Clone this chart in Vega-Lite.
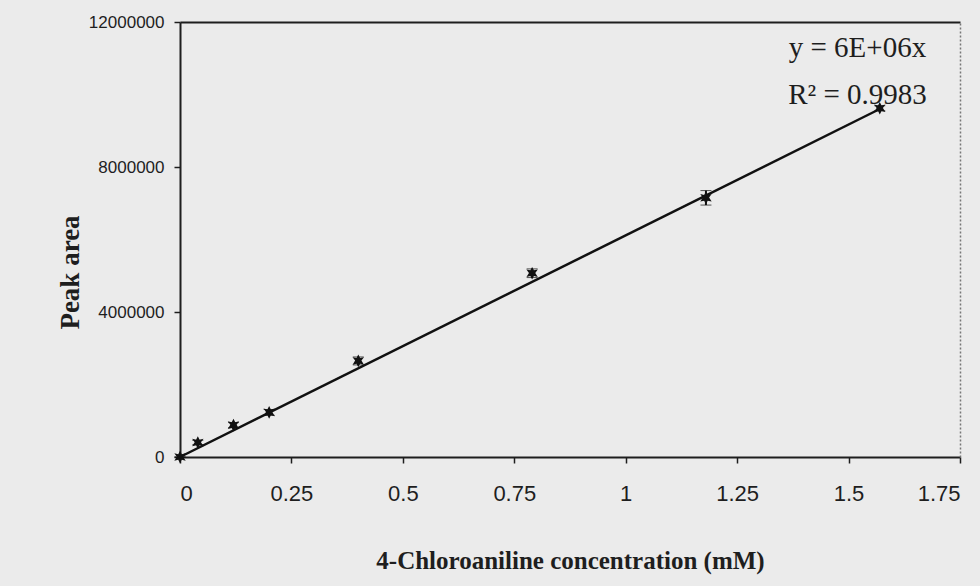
{
  "$schema": "https://vega.github.io/schema/vega-lite/v6.json",
  "width": 780,
  "height": 435,
  "autosize": "none",
  "padding": {"left": 180, "top": 22, "right": 20, "bottom": 129},
  "background": "#ebebeb",
  "config": {
    "view": {"stroke": null},
    "axis": {
      "labelFont": "Liberation Sans",
      "labelColor": "#1e1e1e",
      "titleFont": "Liberation Serif",
      "titleFontWeight": "bold",
      "titleColor": "#1e1e1e",
      "domainColor": "#1e1e1e",
      "domainWidth": 2,
      "tickColor": "#1e1e1e",
      "tickWidth": 1.5,
      "grid": false
    }
  },
  "datasets": {
    "points": [
      {"conc": 0.0, "area": 0, "lo": 0, "hi": 0},
      {"conc": 0.04, "area": 400000, "lo": 340000, "hi": 460000},
      {"conc": 0.12, "area": 880000, "lo": 810000, "hi": 950000},
      {"conc": 0.2, "area": 1230000, "lo": 1150000, "hi": 1310000},
      {"conc": 0.4, "area": 2650000, "lo": 2540000, "hi": 2760000},
      {"conc": 0.79, "area": 5070000, "lo": 4950000, "hi": 5190000},
      {"conc": 1.18, "area": 7150000, "lo": 6950000, "hi": 7350000},
      {"conc": 1.57, "area": 9620000, "lo": 9550000, "hi": 9690000}
    ],
    "fit": [
      {"conc": 0.0, "area": 0},
      {"conc": 1.57, "area": 9600000}
    ]
  },
  "layer": [
    {
      "data": {"name": "fit"},
      "mark": {"type": "line", "color": "#111111", "strokeWidth": 2.5},
      "encoding": {
        "x": {
          "field": "conc", "type": "quantitative",
          "scale": {"domain": [0, 1.75], "nice": false, "zero": true},
          "axis": {
            "values": [0, 0.25, 0.5, 0.75, 1, 1.25, 1.5, 1.75],
            "labelExpr": "datum.value",
            "labelFontSize": 22,
            "tickSize": 6,
            "labelPadding": 20,
            "title": "4-Chloroaniline concentration (mM)",
            "titleFontSize": 25,
            "titleY": 103,
            "titleBaseline": "middle"
          }
        },
        "y": {
          "field": "area", "type": "quantitative",
          "scale": {"domain": [0, 12000000], "nice": false},
          "axis": {
            "values": [0, 4000000, 8000000, 12000000],
            "format": "d",
            "labelFontSize": 17,
            "tickSize": 6,
            "labelPadding": 10,
            "title": "Peak area",
            "titleFontSize": 27,
            "titleX": -110,
            "titleY": 250,
            "titleAngle": -90,
            "titleAlign": "center",
            "titleBaseline": "middle"
          }
        }
      }
    },
    {
      "data": {"name": "points"},
      "mark": {"type": "errorbar", "ticks": {"size": 11, "color": "#111111", "strokeWidth": 2}, "rule": {"color": "#111111", "strokeWidth": 2}},
      "encoding": {
        "x": {"field": "conc", "type": "quantitative", "axis": null},
        "y": {"field": "lo", "type": "quantitative", "axis": null},
        "y2": {"field": "hi"}
      }
    },
    {
      "data": {"name": "points"},
      "mark": {
        "type": "point",
        "filled": true,
        "color": "#111111",
        "opacity": 1,
        "size": 160,
        "shape": "M0,-1L0.28,-0.45L0.9,-0.6L0.5,-0.05L0.9,0.6L0.28,0.45L0,1L-0.28,0.45L-0.9,0.6L-0.5,-0.05L-0.9,-0.6L-0.28,-0.45Z"
      },
      "encoding": {
        "x": {"field": "conc", "type": "quantitative", "axis": null},
        "y": {"field": "area", "type": "quantitative", "axis": null}
      }
    },
    {
      "mark": {"type": "point", "filled": true, "color": "#111111", "opacity": 1, "size": 120, "shape": "diamond"},
      "encoding": {
        "x": {"datum": 0, "type": "quantitative", "axis": null},
        "y": {"datum": 0, "type": "quantitative", "axis": null}
      }
    },
    {
      "data": {"values": [
        {"conc": 1.52, "area": 11280000, "label": "y = 6E+06x"},
        {"conc": 1.52, "area": 9990000, "label": "R² = 0.9983"}
      ]},
      "mark": {"type": "text", "font": "Liberation Serif", "fontSize": 29, "color": "#1e1e1e", "align": "center", "baseline": "middle"},
      "encoding": {
        "x": {"field": "conc", "type": "quantitative", "axis": null},
        "y": {"field": "area", "type": "quantitative", "axis": null},
        "text": {"field": "label"}
      }
    },
    {
      "data": {"values": [{"conc": 0, "area": 0}]},
      "mark": {"type": "point", "opacity": 0},
      "encoding": {
        "x": {
          "field": "conc", "type": "quantitative",
          "axis": {"orient": "top", "labels": false, "ticks": false, "title": null, "domainWidth": 2}
        },
        "y": {
          "field": "area", "type": "quantitative",
          "axis": {"orient": "right", "labels": false, "ticks": false, "title": null, "domainColor": "#777777", "domainWidth": 1.5, "domainDash": [2, 2]}
        }
      }
    }
  ],
  "resolve": {"axis": {"x": "independent", "y": "independent"}}
}
